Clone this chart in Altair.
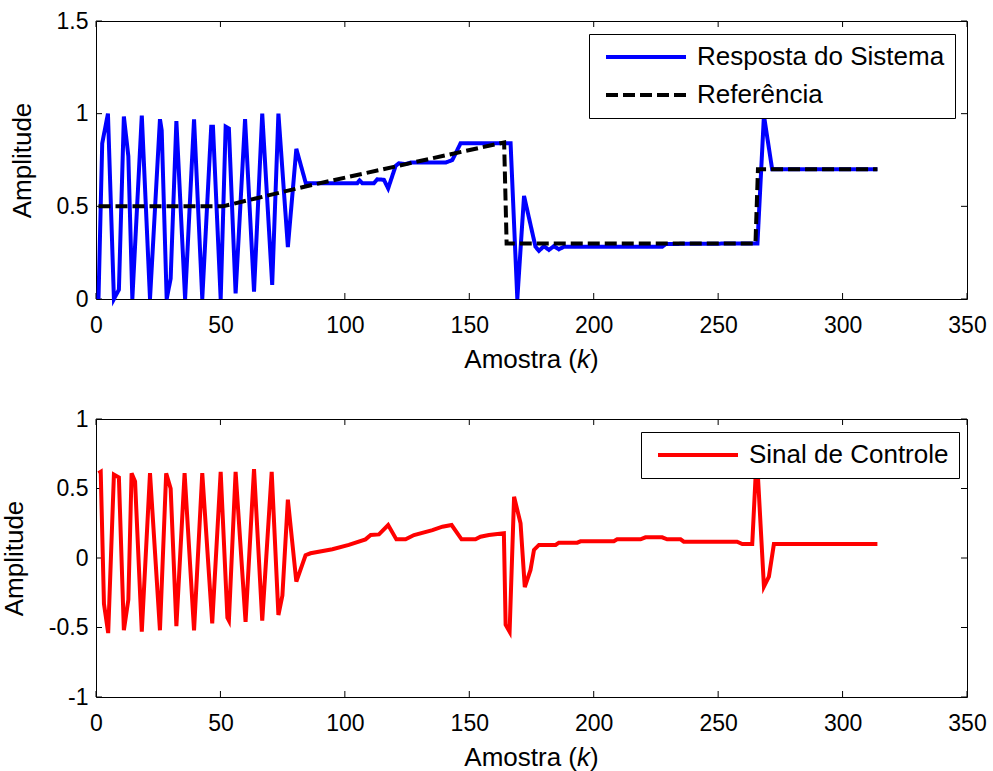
import altair as alt
import pandas as pd

# ---------------- data ----------------
resp_k = [1, 2.5, 4.8, 7.2, 9.2, 11.2, 13.0, 14.6, 18.4, 21.7, 25.7, 26.4, 28.4, 30.0,
          32.3, 35.8, 39.4, 42.7, 46.3, 47.0, 50.1, 52.1, 53.4, 56.1, 59.9, 63.5, 66.8,
          70.8, 73.3, 77.1, 80.5, 84.3, 105.0, 105.9, 107.0, 111.7, 113.0, 115.7, 117.4,
          120.4, 121.7, 124.4, 126.4, 140.5, 143.2, 146.5, 166.6, 169.3, 172.0, 176.6,
          178.0, 180.0, 182.0, 184.0, 186.0, 188.0, 227.5, 229.0, 265.8, 268.4, 271.7, 314]
resp_v = [0.0, 0.84, 1.0, 0.0, 0.05, 0.985, 0.77, 0.0, 0.99, 0.0, 0.97, 0.91, 0.0, 0.11,
          0.96, 0.0, 0.97, 0.0, 0.93, 0.93, 0.0, 0.93, 0.92, 0.03, 0.97, 0.04, 1.0,
          0.076, 1.0, 0.28, 0.81, 0.625, 0.625, 0.64, 0.625, 0.625, 0.646, 0.643, 0.597,
          0.718, 0.732, 0.728, 0.736, 0.736, 0.75, 0.84, 0.84, 0.0, 0.556, 0.282,
          0.26, 0.285, 0.265, 0.285, 0.268, 0.282, 0.282, 0.297, 0.3, 0.99, 0.7, 0.7]

ref_k = [1, 51, 85, 164, 165, 265, 266, 314]
ref_v = [0.5, 0.5, 0.61, 0.845, 0.3, 0.3, 0.7, 0.7]

ctrl_k = [1, 1.9, 3.2, 4.9, 7.2, 9.2, 11.2, 13.0, 14.3, 15.7, 18.4, 21.7, 25.7, 28.2,
          30.0, 32.3, 35.6, 39.4, 42.7, 46.7, 50.1, 52.8, 53.4, 56.1, 60.1, 63.5, 66.8,
          70.6, 73.3, 74.9, 77.1, 80.5, 84.2, 86.2, 95.0, 101.6, 108.3, 110.4, 113.7,
          117.4, 120.7, 124.4, 127.8, 135.2, 139.2, 142.9, 146.9, 152.5, 154.5, 157.9,
          163.9, 164.6, 166.2, 168.0, 170.6, 172.3, 174.6, 176.0, 178.0, 184.7, 186.0,
          193.4, 194.7, 208.1, 209.4, 218.8, 220.8, 227.5, 229.5, 234.9, 236.2, 257.6,
          259.7, 263.7, 265.5, 268.4, 270.4, 272.4, 314]
ctrl_v = [0.61, 0.62, -0.33, -0.54, 0.6, 0.58, -0.52, -0.3, 0.61, 0.55, -0.53, 0.61,
          -0.52, 0.61, 0.5, -0.49, 0.61, -0.52, 0.61, -0.47, 0.62, -0.43, -0.45, 0.62,
          -0.46, 0.64, -0.45, 0.62, -0.41, -0.27, 0.42, -0.17, 0.02, 0.034, 0.063, 0.094,
          0.134, 0.165, 0.17, 0.237, 0.134, 0.134, 0.165, 0.2, 0.225, 0.237, 0.134,
          0.134, 0.153, 0.165, 0.178, -0.48, -0.53, 0.44, 0.25, -0.21, -0.086, 0.058,
          0.094, 0.094, 0.11, 0.11, 0.12, 0.12, 0.134, 0.134, 0.149, 0.149, 0.134,
          0.134, 0.117, 0.117, 0.1, 0.1, 0.75, -0.206, -0.134, 0.1, 0.1]

x_ticks = [0, 50, 100, 150, 200, 250, 300, 350]
y_ticks_top = [0, 0.5, 1, 1.5]
y_ticks_bot = [-1, -0.5, 0, 0.5, 1]

S_RESP = "Resposta do Sistema"
S_REF = "Referência"
S_CTRL = "Sinal de Controle"
# x title "Amostra (k)" drawn in three parts so that k can be italic
X_TITLE_A = "Amostra ("
X_TITLE_K = "k"
X_TITLE_B = ")"
Y_TITLE = "Amplitude"

# ---------------- layout constants ----------------
W, H = 871, 278
FONT = "Liberation Sans"
TL = 6  # inward tick length
LW = 4  # line width
TB = H + 69  # x-title baseline

resp_df = pd.DataFrame({"k": resp_k, "v": resp_v, "serie": S_RESP, "o": range(len(resp_k))})
ref_df = pd.DataFrame({"k": ref_k, "v": ref_v, "serie": S_REF, "o": range(len(ref_k))})
ctrl_df = pd.DataFrame({"k": ctrl_k, "v": ctrl_v, "serie": S_CTRL, "o": range(len(ctrl_k))})

xt_df = pd.DataFrame({"t": x_ticks})

# long horizontal line symbol (80 px with symbolSize 400), shifted right
LINE_SYMBOL = "M-0.6,0H7.4"


def legend(lx, ly):
    return alt.Legend(
        orient="none", legendX=lx, legendY=ly, title=None,
        fillColor="white", strokeColor="black", padding=10,
        symbolType=LINE_SYMBOL, symbolSize=400, symbolStrokeWidth=LW,
        labelFont=FONT, labelFontSize=26, labelColor="black", labelOffset=72,
        rowPadding=12, labelLimit=400,
    )


def title_part(txt, x, align, style="normal"):
    return alt.Chart(pd.DataFrame({"txt": [txt]})).mark_text(
        font=FONT, fontSize=26, fontStyle=style, color="black",
        align=align, baseline="alphabetic"
    ).encode(text="txt:N", x=alt.value(x), y=alt.value(TB))


def panel(line_layers, yticks, ydom):
    xs = alt.Scale(domain=[0, 350], nice=False, zero=False)
    ys = alt.Scale(domain=ydom, nice=False, zero=False)
    x_enc = alt.X("k:Q", scale=xs,
                  axis=alt.Axis(values=x_ticks, title=None, labelExpr="datum.value + ''"))
    y_enc = alt.Y("v:Q", scale=ys,
                  axis=alt.Axis(values=yticks, title=Y_TITLE, labelExpr="datum.value + ''"))
    yt_df = pd.DataFrame({"t": yticks})
    bx = alt.Chart(xt_df).mark_rule(color="black", strokeWidth=1).encode(
        x=alt.X("t:Q", scale=xs), y=alt.value(H), y2=alt.value(H - TL))
    tx = alt.Chart(xt_df).mark_rule(color="black", strokeWidth=1).encode(
        x=alt.X("t:Q", scale=xs), y=alt.value(0), y2=alt.value(TL))
    ly = alt.Chart(yt_df).mark_rule(color="black", strokeWidth=1).encode(
        y=alt.Y("t:Q", scale=ys), x=alt.value(0), x2=alt.value(TL))
    ry = alt.Chart(yt_df).mark_rule(color="black", strokeWidth=1).encode(
        y=alt.Y("t:Q", scale=ys), x=alt.value(W - TL), x2=alt.value(W))
    t1 = title_part(X_TITLE_A, W / 2 + 45.5, "right")
    t2 = title_part(X_TITLE_K, W / 2 + 52, "center", "italic")
    t3 = title_part(X_TITLE_B, W / 2 + 58.5, "left")
    layers = [l(x_enc, y_enc) for l in line_layers]
    return alt.layer(bx, tx, ly, ry, *layers, t1, t2, t3).properties(width=W, height=H)


top_color = alt.Color("serie:N", scale=alt.Scale(domain=[S_RESP, S_REF], range=["#0000ff", "#000000"]),
                      legend=legend(493, 13))
top_dash = alt.StrokeDash("serie:N", scale=alt.Scale(domain=[S_RESP, S_REF], range=[[1, 0], [12, 5]]),
                          legend=legend(493, 13))


def resp_layer(x_enc, y_enc):
    return alt.Chart(resp_df).mark_line(strokeWidth=LW).encode(
        x=x_enc, y=y_enc, color=top_color, strokeDash=top_dash, order="o:Q")


def ref_layer(x_enc, y_enc):
    return alt.Chart(ref_df).mark_line(strokeWidth=LW).encode(
        x=x_enc, y=y_enc, color=top_color, strokeDash=top_dash, order="o:Q")


bot_color = alt.Color("serie:N", scale=alt.Scale(domain=[S_CTRL], range=["#ff0000"]),
                      legend=legend(545, 13))


def ctrl_layer(x_enc, y_enc):
    return alt.Chart(ctrl_df).mark_line(strokeWidth=LW).encode(
        x=x_enc, y=y_enc, color=bot_color, order="o:Q")


top = panel([resp_layer, ref_layer], y_ticks_top, [0, 1.5])
bottom = panel([ctrl_layer], y_ticks_bot, [-1, 1])

chart = alt.vconcat(top, bottom, spacing=120, bounds="flush").resolve_scale(
    color="independent", strokeDash="independent"
).properties(
    padding={"left": 0, "top": 9, "right": 5, "bottom": 0},
    background="white",
).configure_view(
    stroke="black", strokeWidth=1
).configure_axis(
    labelFont=FONT, labelFontSize=23, labelColor="black",
    titleFont=FONT, titleFontSize=26, titleFontWeight="normal", titleColor="black",
    ticks=False, domain=False, grid=False, labelFlush=False,
).configure_axisX(
    labelPadding=15
).configure_axisY(
    labelPadding=8, titlePadding=21
)

chart.save("out.html", embed_options={"renderer": "svg", "actions": False})
